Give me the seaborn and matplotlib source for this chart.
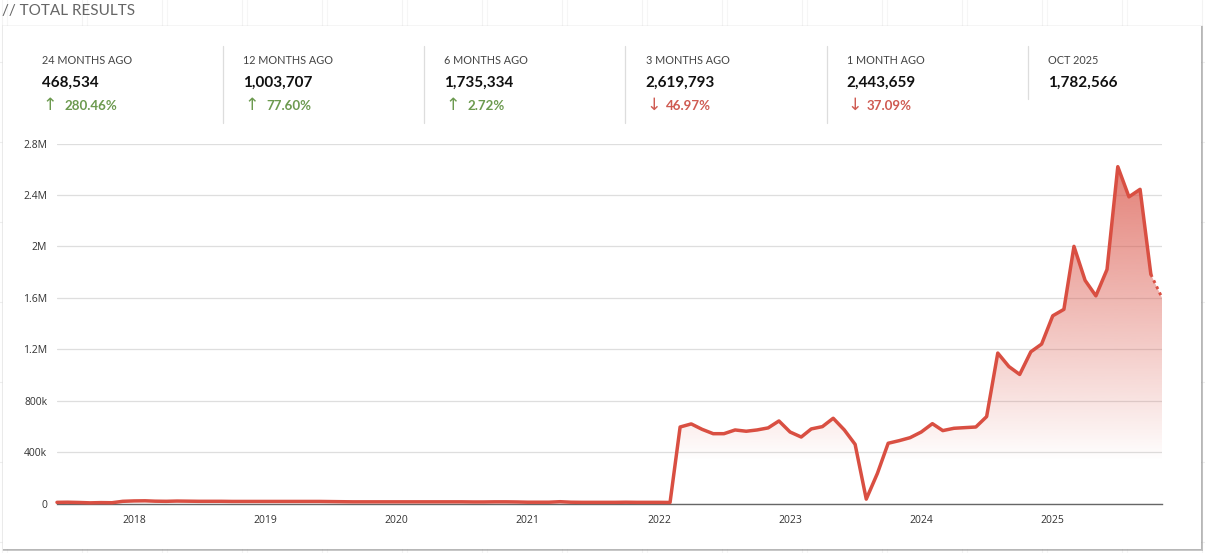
import matplotlib
matplotlib.use("Agg")
import matplotlib.pyplot as plt
import matplotlib.dates as mdates
from matplotlib.patches import Rectangle
from matplotlib.ticker import FuncFormatter
import numpy as np
import pandas as pd
import seaborn as sns

# monthly totals, jun 2017 -> nov 2025 (in thousands)
months = pd.date_range("2017-06-01", "2025-11-01", freq="MS")
values_2017 = [9, 10, 8, 5, 7, 6, 17]
values_2018 = [20, 21, 18, 17, 19, 18, 17, 17, 17, 16, 16, 16]
values_2019 = [16, 16, 16, 16, 16, 16, 15, 14, 13, 13, 13, 13]
values_2020 = [13, 13, 13, 13, 13, 13, 13, 12, 12, 13, 13, 12]
values_2021 = [10, 10, 10, 14, 10, 9, 9, 9, 9, 10, 9, 9]
values_2022 = [9, 8, 595, 619, 577, 543, 543, 572, 562, 572, 588, 642]
values_2023 = [556, 517, 580, 598, 663, 572, 460, 34, 234, 468.534, 489, 512]
values_2024 = [556, 621, 567, 585, 590, 595, 676, 1170, 1065, 1003.707, 1180, 1240]
values_2025 = [1460, 1510, 2000, 1735.334, 1615, 1820, 2619.793, 2385, 2443.659, 1782.566, 1600]

y_ticks = [0, 400, 800, 1200, 1600, 2000, 2400, 2800]
y_labels = ["0", "400k", "800k", "1.2M", "1.6M", "2M", "2.4M", "2.8M"]

kpi_labels = ["24 MONTHS AGO", "12 MONTHS AGO", "6 MONTHS AGO", "3 MONTHS AGO", "1 MONTH AGO", "OCT 2025"]
kpi_values = ["468,534", "1,003,707", "1,735,334", "2,619,793", "2,443,659", "1,782,566"]
kpi_changes = ["280.46%", "77.60%", "2.72%", "46.97%", "37.09%", None]
kpi_up = [True, True, True, False, False, None]

RED = "#d94f42"
GREEN = "#6c9a4f"
DOWN = "#cf5b52"
W, H = 1205, 553

values = np.array(values_2017 + values_2018 + values_2019 + values_2020 + values_2021
                  + values_2022 + values_2023 + values_2024 + values_2025)
df = pd.DataFrame({"month": months, "total": values})

sns.set_theme(style="white")
plt.rcParams["font.family"] = ["Lato", "DejaVu Sans"]

fig = plt.figure(figsize=(W / 100, H / 100), dpi=100, facecolor="white")

# page + card, drawn in pixel coordinates
bg = fig.add_axes([0, 0, 1, 1])
bg.set_xlim(0, W)
bg.set_ylim(H, 0)
bg.axis("off")
for x in range(2, W, 80):
    bg.axvline(x, color="#f3f3f3", lw=0.8, zorder=0)
    bg.axvline(x + 5, color="#f6f6f6", lw=0.8, zorder=0)
for y in range(62, H, 80):
    bg.axhline(y, color="#ededed", lw=0.8, zorder=0)
# soft shadow, heavier along the bottom and right
bg.add_patch(Rectangle((1.5, 24.5), 1201, 526, fc="#777777", ec="none", alpha=0.07, zorder=1))
for i in range(4):
    bg.add_patch(Rectangle((3, 26), 1198 + i * 0.8, 523 + i * 0.8, fc="#777777",
                           ec="none", alpha=0.2, zorder=1))
bg.add_patch(Rectangle((3, 26), 1198, 523, fc="white", ec="none", zorder=2))

bg.text(2, 10.5, "// TOTAL RESULTS", fontsize=11, color="#666666", va="center", ha="left", zorder=5)

for i, label in enumerate(kpi_labels):
    x = 42 + i * 201.2
    bg.text(x, 60, label, fontsize=7.8, color="#444444", va="center", ha="left", zorder=5)
    bg.text(x, 82.5, kpi_values[i], fontsize=11, color="#111111", va="center", ha="left", fontweight="bold", zorder=5)
    if kpi_changes[i] is not None:
        col = GREEN if kpi_up[i] else DOWN
        arrow = "\u2191" if kpi_up[i] else "\u2193"
        bg.text(x + 8, 105, arrow, fontsize=12.5, color=col, va="center", ha="center", family="DejaVu Sans", zorder=5)
        dx = 23 if kpi_up[i] else 20
        bg.text(x + dx, 106, kpi_changes[i], fontsize=9.6, color=col, va="center", ha="left", fontweight="bold", zorder=5)
    if i < 5:
        end = 123 if i < 4 else 99
        bg.plot([x + 181] * 2, [46, end], color="#dddddd", lw=0.9, zorder=5)

# main chart
left, right, top, bottom = 57, 1162, 143.5, 503.5
ax = fig.add_axes([left / W, 1 - bottom / H, (right - left) / W, (bottom - top) / H])
ax.patch.set_alpha(0)

solid = df.iloc[:-1]
dotted = df.iloc[-2:]

# vertical gradient, clipped to the area under the line
poly = ax.fill_between(df["month"], df["total"], 0, color="none", lw=0)
ymax = 2800
x0, x1 = mdates.date2num(months[0]), mdates.date2num(months[-1])
n = 300
levels = np.linspace(ymax, 0, n)
rgba = np.zeros((n, 1, 4))
rgba[..., :3] = matplotlib.colors.to_rgb(RED)
rgba[:, 0, 3] = np.clip((levels - 330) / 2500, 0, 1) ** 0.95 * 0.78
im = ax.imshow(rgba, extent=[x0, x1, 0, ymax], aspect="auto", zorder=1, interpolation="bilinear")
im.set_clip_path(poly.get_paths()[0], transform=ax.transData)

sns.lineplot(data=solid, x="month", y="total", color=RED, lw=2.5, ax=ax, zorder=3, clip_on=False)
sns.lineplot(data=dotted, x="month", y="total", color=RED, lw=2.1, ax=ax, zorder=3, clip_on=False,
             linestyle=(0, (1, 1.3)))

ax.set_xlim(x0, x1)
ax.set_ylim(0, ymax)
ax.set_xlabel("")
ax.set_ylabel("")
for s in ["top", "right", "left"]:
    ax.spines[s].set_visible(False)
ax.spines["bottom"].set_color("#666666")
ax.spines["bottom"].set_linewidth(1.0)

ax.set_yticks(y_ticks)
ax.set_yticklabels(y_labels)
ax.grid(axis="y", color="#dedede", lw=0.9)
ax.set_axisbelow(True)
ax.tick_params(axis="y", length=0, pad=7, labelsize=7.5, labelcolor="#333333")

ax.xaxis.set_major_locator(mdates.MonthLocator(bymonth=[1, 4, 7, 10]))
ax.xaxis.set_major_formatter(FuncFormatter(lambda v, p: str(mdates.num2date(v).year) if mdates.num2date(v).month == 1 else ""))
ax.tick_params(axis="x", length=5, width=0.8, color="#dddddd", pad=3, labelsize=7.5, labelcolor="#333333")
for lab in ax.get_xticklabels() + ax.get_yticklabels():
    lab.set_family("Open Sans")

fig.savefig("out.png", dpi=100)
